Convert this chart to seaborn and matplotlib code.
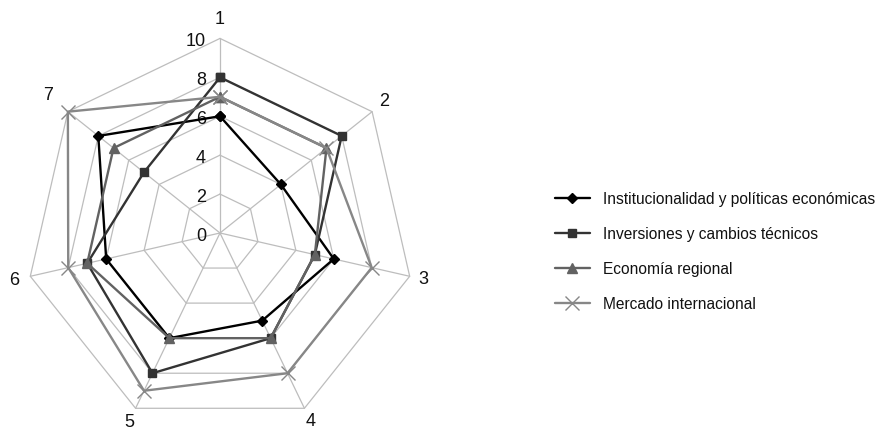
import numpy as np
import pandas as pd
import seaborn as sns
import matplotlib
matplotlib.use("Agg")
import matplotlib.pyplot as plt
from matplotlib.lines import Line2D
from matplotlib.legend_handler import HandlerLine2D

# ---- data ----
axis_labels = ["1", "2", "3", "4", "5", "6", "7"]
series_names = [
    "Institucionalidad y políticas económicas",
    "Inversiones y cambios técnicos",
    "Economía regional",
    "Mercado internacional",
]
institucionalidad = [6, 4, 6, 5, 6, 6, 8]
inversiones = [8, 8, 5, 6, 8, 7, 5]
economia = [7, 7, 5, 6, 6, 7, 7]
mercado = [7, 7, 8, 8, 9, 8, 10]
r_ticks = [0, 2, 4, 6, 8, 10]

# layout: radial distance of each axis label (in data units)
label_radius = [10.95, 10.82, 10.74, 10.73, 10.79, 10.87, 11.33]

sns.set_theme(style="white")
plt.rcParams["font.family"] = ["Liberation Sans", "DejaVu Sans"]

fig = plt.figure(figsize=(8.86, 4.29), dpi=100)
ax = fig.add_axes([0.0287, 0.0033, 0.4392, 0.9072], projection="polar")
ax.set_theta_offset(np.pi / 2)
ax.set_theta_direction(-1)
ax.grid(False)
ax.spines["polar"].set_visible(False)
ax.patch.set_alpha(0)

n = len(axis_labels)
angles = np.linspace(0, 2 * np.pi, n, endpoint=False)
ang_closed = np.append(angles, angles[0] + 2 * np.pi)

grid_col = "#bdbdbd"
for r in r_ticks[1:]:
    ax.plot(ang_closed, [r] * (n + 1), color=grid_col, lw=0.9, zorder=1, clip_on=False)
for a in angles:
    ax.plot([a, a], [0, r_ticks[-1]], color=grid_col, lw=0.9, zorder=1, clip_on=False)

for r in r_ticks:
    ax.annotate(str(r), xy=(0, r), xytext=(-10, -2.5), textcoords="offset points",
                ha="right", va="center", fontsize=13, color="#111111")

for a, lab, lr in zip(angles, axis_labels, label_radius):
    ax.text(a, lr, lab, ha="center", va="center", fontsize=13, color="#111111")

styles = [
    (institucionalidad, "#000000", "D", 5, 1.7, 1.0),
    (inversiones, "#333333", "s", 6, 1.7, 1.0),
    (economia, "#626262", "^", 6.5, 1.7, 1.0),
    (mercado, "#878787", "x", 10, 1.7, 1.0),
]

handles = []
for (vals, col, mk, ms, lw, mew), name in zip(styles, series_names):
    df = pd.DataFrame({"theta": ang_closed, "r": list(vals) + [vals[0]]})
    sns.lineplot(data=df, x="theta", y="r", ax=ax, color=col, lw=lw, marker=mk,
                 markersize=ms, markeredgecolor=col, markerfacecolor=col,
                 markeredgewidth=mew, sort=False, clip_on=False, zorder=3,
                 legend=False)
    handles.append(Line2D([0, 1], [0, 0], color=col, lw=lw, marker=mk, markersize=ms,
                          markeredgecolor=col, markerfacecolor=col,
                          markeredgewidth=mew))

ax.set_xticks([])
ax.set_yticks([])
ax.set_xlabel("")
ax.set_ylabel("")
ax.set_ylim(0, 10)


class LeftMarkerHandler(HandlerLine2D):
    def get_xdata(self, legend, xdescent, ydescent, width, height, fontsize):
        xdata = np.array([-xdescent, -xdescent + width], float)
        xdata_marker = np.array([-xdescent + 0.33 * width], float)
        return xdata, xdata_marker


fig.legend(handles, series_names, loc="center left", bbox_to_anchor=(0.6264, 0.4133),
           frameon=False, fontsize=11.2, numpoints=1, handlelength=2.25,
           handletextpad=0.84, labelspacing=1.29, borderpad=0, borderaxespad=0,
           labelcolor="#111111",
           handler_map={Line2D: LeftMarkerHandler(numpoints=1)})

fig.savefig("out.png", dpi=100)
